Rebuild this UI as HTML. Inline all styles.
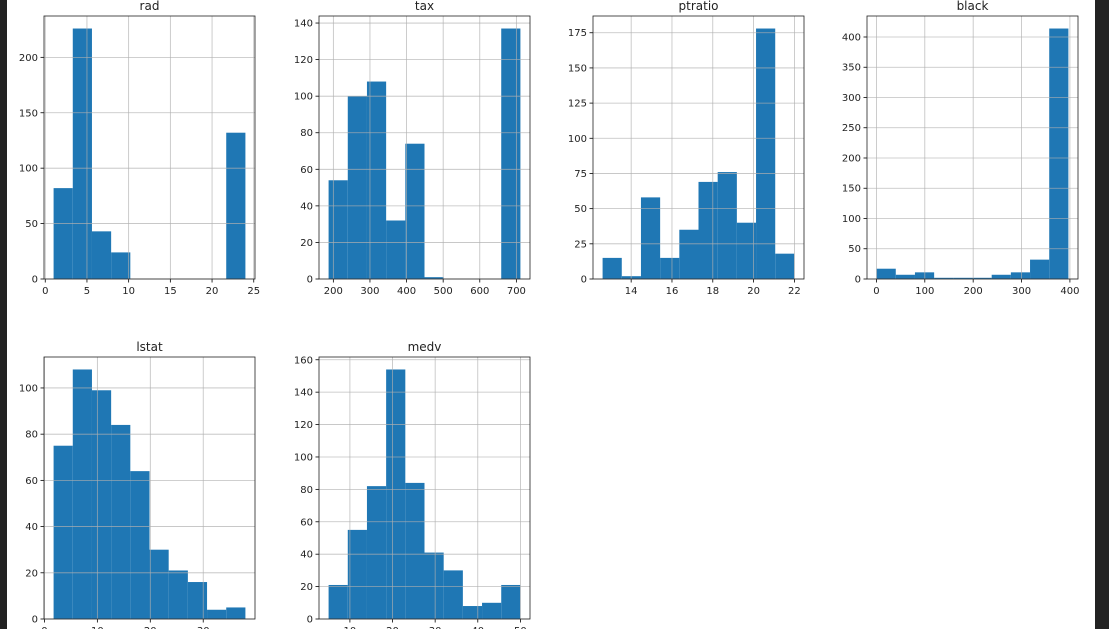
<!DOCTYPE html>
<html><head><meta charset="utf-8"><style>
body{margin:0;background:#fff;width:1109px;height:629px;overflow:hidden;position:relative}
svg{position:absolute;left:0;top:0}
</style></head><body>
<svg id="c" width="1109" height="629" font-family="DejaVu Sans, Liberation Sans, sans-serif"></svg>
<script>
const titles = ["rad","tax","ptratio","black","lstat","medv"];
const binMins = [1, 187, 12.6, 0.32, 1.73, 5];
const binMaxs = [24, 711, 22, 396.9, 37.97, 50];
const radCounts = [82,226,43,24,0,0,0,0,0,132];
const taxCounts = [54,100,108,32,74,1,0,0,0,137];
const ptratioCounts = [15,2,58,15,35,69,76,40,178,18];
const blackCounts = [17,7,11,2,2,2,7,11,32,414];
const lstatCounts = [75,108,99,84,64,30,21,16,4,5];
const medvCounts = [21,55,82,154,84,41,30,8,10,21];
const xTicks = [[0,5,10,15,20,25],[200,300,400,500,600,700],[14,16,18,20,22],[0,100,200,300,400],[0,10,20,30],[10,20,30,40,50]];
const yTicks = [[0,50,100,150,200],[0,20,40,60,80,100,120,140],[0,25,50,75,100,125,150,175],[0,50,100,150,200,250,300,350,400],[0,20,40,60,80,100],[0,20,40,60,80,100,120,140,160]];
const allCounts = [radCounts,taxCounts,ptratioCounts,blackCounts,lstatCounts,medvCounts];

const NS="http://www.w3.org/2000/svg";
const svg=document.getElementById('c');
function mk(tag,attrs,parent){const e=document.createElementNS(NS,tag);for(const k in attrs)e.setAttribute(k,attrs[k]);(parent||svg).appendChild(e);return e;}
const colX=[44,319,593,867], rowY=[[16,279],[357,619]], W=211;
mk('rect',{x:0,y:0,width:7,height:629,fill:'#222'});
mk('rect',{x:1095,y:0,width:14,height:629,fill:'#222'});
for(let p=0;p<6;p++){
  const L=colX[p%4], T=rowY[Math.floor(p/4)][0], B=rowY[Math.floor(p/4)][1];
  const counts=allCounts[p], lo=binMins[p], hi=binMaxs[p], n=counts.length, bw=(hi-lo)/n;
  const pad=(hi-lo)*0.05, x0=lo-pad, x1=hi+pad;
  const ymax=Math.max(...counts)*1.05;
  const sx=v=>L+(v-x0)/(x1-x0)*W, sy=v=>B-v/ymax*(B-T);
  const g=mk('g',{});
  
  
  counts.forEach((c,i)=>{
    if(c<=0)return;
    const r=mk('rect',{x:sx(lo+i*bw),y:sy(c),width:sx(lo+(i+1)*bw)-sx(lo+i*bw),height:B-sy(c),fill:'#1f77b4'},g);
    
    
  });
  xTicks[p].forEach(t=>{const x=sx(t);
    mk('line',{x1:x,x2:x,y1:T,y2:B,stroke:'#b0b0b0','stroke-width':0.8,opacity:0.8},g);
    mk('line',{x1:x,x2:x,y1:B,y2:B+3.5,stroke:'#000','stroke-width':0.8},g);
    const tx=mk('text',{x:x,y:B+15,'font-size':10,'text-anchor':'middle',fill:'#222'},g);tx.textContent=t;
    
    
  });
  yTicks[p].forEach(t=>{const y=sy(t);
    mk('line',{x1:L,x2:L+W,y1:y,y2:y,stroke:'#b0b0b0','stroke-width':0.8,opacity:0.8},g);
    mk('line',{x1:L-3.5,x2:L,y1:y,y2:y,stroke:'#000','stroke-width':0.8},g);
    const tx=mk('text',{x:L-6,y:y+3.5,'font-size':10,'text-anchor':'end',fill:'#222'},g);tx.textContent=t;
    
    
  });
  mk('rect',{x:L,y:T,width:W,height:B-T,fill:'none',stroke:'#222','stroke-width':0.8},g);
  const ti=mk('text',{x:L+W/2,y:T-6,'font-size':12,'text-anchor':'middle',fill:'#222'},g);ti.textContent=titles[p];
  
  
}
</script>
</body></html>
